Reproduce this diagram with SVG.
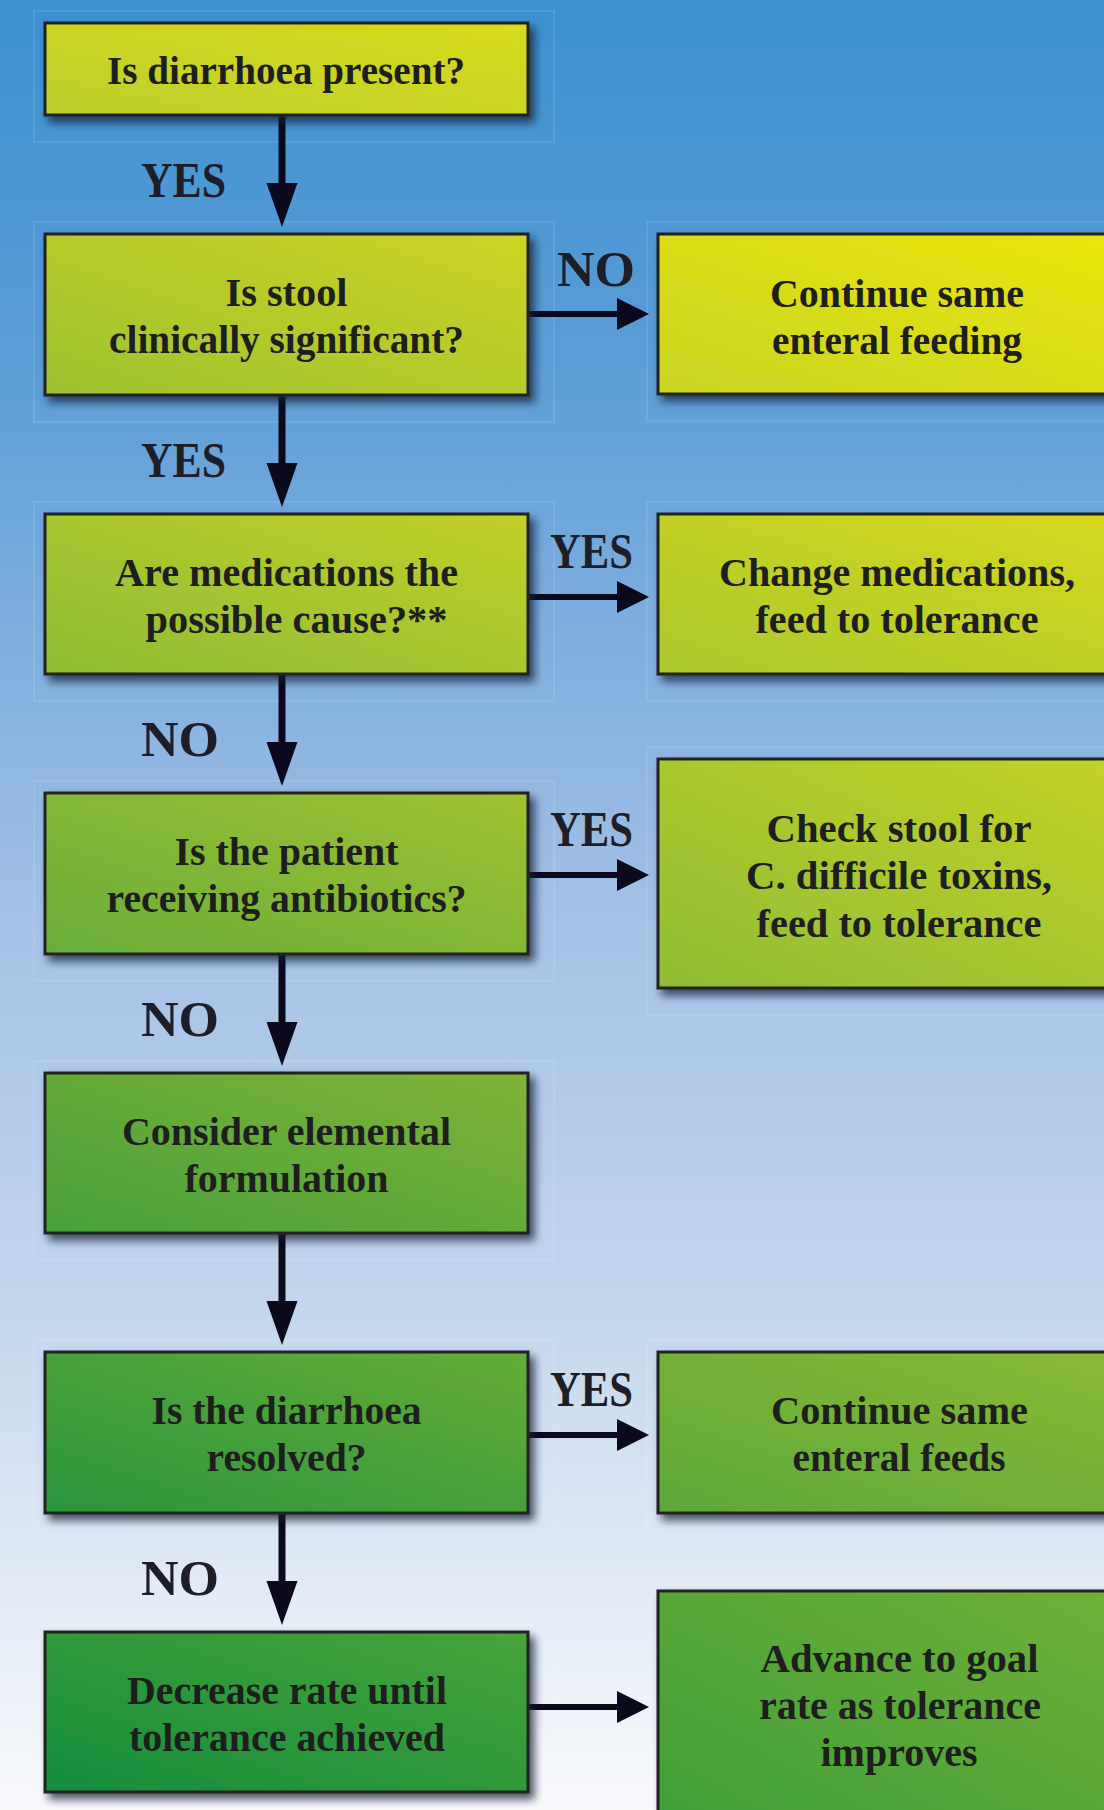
<svg xmlns="http://www.w3.org/2000/svg" width="1104" height="1810" viewBox="0 0 1104 1810">
<defs>
<linearGradient id="bg" x1="0" y1="0" x2="0" y2="1">
<stop offset="0" stop-color="#3c91d1"/>
<stop offset="0.2" stop-color="#5b9dd6"/>
<stop offset="0.5" stop-color="#a2c0e5"/>
<stop offset="0.72" stop-color="#c3d6ee"/>
<stop offset="1" stop-color="#f9fafc"/>
</linearGradient>
<linearGradient id="g1" x1="0" y1="1" x2="1" y2="0"><stop offset="0" stop-color="#bccf2e"/><stop offset="1" stop-color="#d9da1a"/></linearGradient>
<linearGradient id="g2" x1="0" y1="1" x2="1" y2="0"><stop offset="0" stop-color="#9cc230"/><stop offset="1" stop-color="#cfd326"/></linearGradient>
<linearGradient id="gr2" x1="0" y1="1" x2="1" y2="0"><stop offset="0" stop-color="#c8d424"/><stop offset="1" stop-color="#ece60a"/></linearGradient>
<linearGradient id="g3" x1="0" y1="1" x2="1" y2="0"><stop offset="0" stop-color="#8dbc34"/><stop offset="1" stop-color="#c2d02a"/></linearGradient>
<linearGradient id="gr3" x1="0" y1="1" x2="1" y2="0"><stop offset="0" stop-color="#aac82e"/><stop offset="1" stop-color="#d8d91e"/></linearGradient>
<linearGradient id="g4" x1="0" y1="1" x2="1" y2="0"><stop offset="0" stop-color="#68ad3a"/><stop offset="1" stop-color="#a0c232"/></linearGradient>
<linearGradient id="gr4" x1="0" y1="1" x2="1" y2="0"><stop offset="0" stop-color="#8ebc34"/><stop offset="1" stop-color="#c6d328"/></linearGradient>
<linearGradient id="g5" x1="0" y1="1" x2="1" y2="0"><stop offset="0" stop-color="#48a03a"/><stop offset="1" stop-color="#80b438"/></linearGradient>
<linearGradient id="g6" x1="0" y1="1" x2="1" y2="0"><stop offset="0" stop-color="#2a953c"/><stop offset="1" stop-color="#66ac38"/></linearGradient>
<linearGradient id="gr6" x1="0" y1="1" x2="1" y2="0"><stop offset="0" stop-color="#5ea83a"/><stop offset="1" stop-color="#8aba34"/></linearGradient>
<linearGradient id="g7" x1="0" y1="1" x2="1" y2="0"><stop offset="0" stop-color="#158d3c"/><stop offset="1" stop-color="#48a43a"/></linearGradient>
<linearGradient id="gr7" x1="0" y1="1" x2="1" y2="0"><stop offset="0" stop-color="#3c9e3a"/><stop offset="1" stop-color="#72b038"/></linearGradient>
<filter id="sh" x="-10%" y="-10%" width="125%" height="130%">
<feDropShadow dx="5" dy="6" stdDeviation="4" flood-color="#071a33" flood-opacity="0.75"/>
</filter>
</defs>
<style>
.box{stroke:#222222;stroke-width:3;filter:url(#sh)}
.slice{fill:none;stroke:#ffffff;stroke-opacity:0.13;stroke-width:1.5}
.t{font-family:"Liberation Serif","Times New Roman",serif;font-weight:bold;font-size:41px;fill:#1e1e1e;text-anchor:middle}
.lbl{font-family:"Liberation Serif","Times New Roman",serif;font-weight:bold;font-size:50px;fill:#1e1e28}
.ln{stroke:#0a0a1c;fill:none}
.hd{fill:#0a0a1c}
</style>
<rect x="0" y="0" width="1104" height="1810" fill="url(#bg)"/>
<g id="slices">
<rect class="slice" x="34" y="11" width="520" height="131"/>
<rect class="slice" x="34" y="222" width="520" height="200"/>
<rect class="slice" x="34" y="502" width="520" height="199"/>
<rect class="slice" x="34" y="781" width="520" height="200"/>
<rect class="slice" x="34" y="1061" width="520" height="199"/>
<rect class="slice" x="34" y="1340" width="520" height="200"/>
<rect class="slice" x="34" y="1620" width="520" height="199"/>
<rect class="slice" x="647" y="222" width="520" height="199"/>
<rect class="slice" x="647" y="502" width="520" height="199"/>
<rect class="slice" x="647" y="747" width="520" height="268"/>
<rect class="slice" x="647" y="1340" width="520" height="200"/>
</g>
<g id="connectors">
<line class="ln" stroke-width="7" x1="282" y1="115" x2="282" y2="186"/>
<polygon class="hd" points="266.5,183 297.5,183 282,227"/>
<line class="ln" stroke-width="7" x1="282" y1="395" x2="282" y2="466"/>
<polygon class="hd" points="266.5,463 297.5,463 282,507"/>
<line class="ln" stroke-width="7" x1="282" y1="674" x2="282" y2="745"/>
<polygon class="hd" points="266.5,742 297.5,742 282,786"/>
<line class="ln" stroke-width="7" x1="282" y1="954" x2="282" y2="1025"/>
<polygon class="hd" points="266.5,1022 297.5,1022 282,1066"/>
<line class="ln" stroke-width="7" x1="282" y1="1233" x2="282" y2="1304"/>
<polygon class="hd" points="266.5,1301 297.5,1301 282,1345"/>
<line class="ln" stroke-width="7" x1="282" y1="1513" x2="282" y2="1584"/>
<polygon class="hd" points="266.5,1581 297.5,1581 282,1625"/>
<line class="ln" stroke-width="6" x1="528" y1="314" x2="620" y2="314"/>
<polygon class="hd" points="617,298 617,330 649,314"/>
<line class="ln" stroke-width="6" x1="528" y1="597" x2="620" y2="597"/>
<polygon class="hd" points="617,581 617,613 649,597"/>
<line class="ln" stroke-width="6" x1="528" y1="875" x2="620" y2="875"/>
<polygon class="hd" points="617,859 617,891 649,875"/>
<line class="ln" stroke-width="6" x1="528" y1="1435" x2="620" y2="1435"/>
<polygon class="hd" points="617,1419 617,1451 649,1435"/>
<line class="ln" stroke-width="6" x1="528" y1="1707" x2="620" y2="1707"/>
<polygon class="hd" points="617,1691 617,1723 649,1707"/>
<text class="lbl" x="141" y="197" textLength="85" lengthAdjust="spacingAndGlyphs">YES</text>
<text class="lbl" x="141" y="477" textLength="85" lengthAdjust="spacingAndGlyphs">YES</text>
<text class="lbl" x="141" y="756" textLength="78" lengthAdjust="spacingAndGlyphs">NO</text>
<text class="lbl" x="141" y="1036" textLength="78" lengthAdjust="spacingAndGlyphs">NO</text>
<text class="lbl" x="141" y="1595" textLength="78" lengthAdjust="spacingAndGlyphs">NO</text>
<text class="lbl" x="557" y="286" textLength="78" lengthAdjust="spacingAndGlyphs">NO</text>
<text class="lbl" x="550" y="568" textLength="83" lengthAdjust="spacingAndGlyphs">YES</text>
<text class="lbl" x="550" y="846" textLength="83" lengthAdjust="spacingAndGlyphs">YES</text>
<text class="lbl" x="550" y="1406" textLength="83" lengthAdjust="spacingAndGlyphs">YES</text>
</g>
<g id="n1">
<rect class="box" x="45" y="23" width="483" height="92" fill="url(#g1)"/>
<text class="t" x="286" y="84" textLength="358" lengthAdjust="spacingAndGlyphs">Is diarrhoea present?</text>
</g>
<g id="n2">
<rect class="box" x="45" y="234" width="483" height="161" fill="url(#g2)"/>
<text class="t" x="286.5" y="306" textLength="122" lengthAdjust="spacingAndGlyphs">Is stool</text>
<text class="t" x="286.5" y="353" textLength="355" lengthAdjust="spacingAndGlyphs">clinically significant?</text>
</g>
<g id="r2">
<rect class="box" x="658" y="234" width="483" height="160" fill="url(#gr2)"/>
<text class="t" x="897" y="307" textLength="254" lengthAdjust="spacingAndGlyphs">Continue same</text>
<text class="t" x="897" y="354" textLength="250" lengthAdjust="spacingAndGlyphs">enteral feeding</text>
</g>
<g id="n3">
<rect class="box" x="45" y="514" width="483" height="160" fill="url(#g3)"/>
<text class="t" x="286.5" y="585.5" textLength="343" lengthAdjust="spacingAndGlyphs">Are medications the</text>
<text class="t" x="296.5" y="632.5" textLength="302" lengthAdjust="spacingAndGlyphs">possible cause?**</text>
</g>
<g id="r3">
<rect class="box" x="658" y="514" width="483" height="160" fill="url(#gr3)"/>
<text class="t" x="897" y="585.5" textLength="356" lengthAdjust="spacingAndGlyphs">Change medications,</text>
<text class="t" x="897" y="632.5" textLength="283" lengthAdjust="spacingAndGlyphs">feed to tolerance</text>
</g>
<g id="n4">
<rect class="box" x="45" y="793" width="483" height="161" fill="url(#g4)"/>
<text class="t" x="286.5" y="865" textLength="224" lengthAdjust="spacingAndGlyphs">Is the patient</text>
<text class="t" x="286.5" y="912" textLength="360" lengthAdjust="spacingAndGlyphs">receiving antibiotics?</text>
</g>
<g id="r4">
<rect class="box" x="658" y="759" width="483" height="229" fill="url(#gr4)"/>
<text class="t" x="899" y="841.5" textLength="265" lengthAdjust="spacingAndGlyphs">Check stool for</text>
<text class="t" x="899" y="889" textLength="306" lengthAdjust="spacingAndGlyphs">C. difficile toxins,</text>
<text class="t" x="899" y="936.5" textLength="285" lengthAdjust="spacingAndGlyphs">feed to tolerance</text>
</g>
<g id="n5">
<rect class="box" x="45" y="1073" width="483" height="160" fill="url(#g5)"/>
<text class="t" x="286.5" y="1144.5" textLength="329" lengthAdjust="spacingAndGlyphs">Consider elemental</text>
<text class="t" x="286.5" y="1191.5" textLength="204" lengthAdjust="spacingAndGlyphs">formulation</text>
</g>
<g id="n6">
<rect class="box" x="45" y="1352" width="483" height="161" fill="url(#g6)"/>
<text class="t" x="286.5" y="1424" textLength="270" lengthAdjust="spacingAndGlyphs">Is the diarrhoea</text>
<text class="t" x="286.5" y="1471" textLength="160" lengthAdjust="spacingAndGlyphs">resolved?</text>
</g>
<g id="r6">
<rect class="box" x="658" y="1352" width="483" height="161" fill="url(#gr6)"/>
<text class="t" x="899.5" y="1424" textLength="257" lengthAdjust="spacingAndGlyphs">Continue same</text>
<text class="t" x="899" y="1471" textLength="213" lengthAdjust="spacingAndGlyphs">enteral feeds</text>
</g>
<g id="n7">
<rect class="box" x="45" y="1632" width="483" height="160" fill="url(#g7)"/>
<text class="t" x="287" y="1703.5" textLength="320" lengthAdjust="spacingAndGlyphs">Decrease rate until</text>
<text class="t" x="287" y="1750.5" textLength="316" lengthAdjust="spacingAndGlyphs">tolerance achieved</text>
</g>
<g id="r7">
<rect class="box" x="658" y="1591" width="483" height="260" fill="url(#gr7)"/>
<text class="t" x="899.5" y="1671.5" textLength="278" lengthAdjust="spacingAndGlyphs">Advance to goal</text>
<text class="t" x="900" y="1718.5" textLength="282" lengthAdjust="spacingAndGlyphs">rate as tolerance</text>
<text class="t" x="899" y="1766" textLength="157" lengthAdjust="spacingAndGlyphs">improves</text>
</g>
</svg>
